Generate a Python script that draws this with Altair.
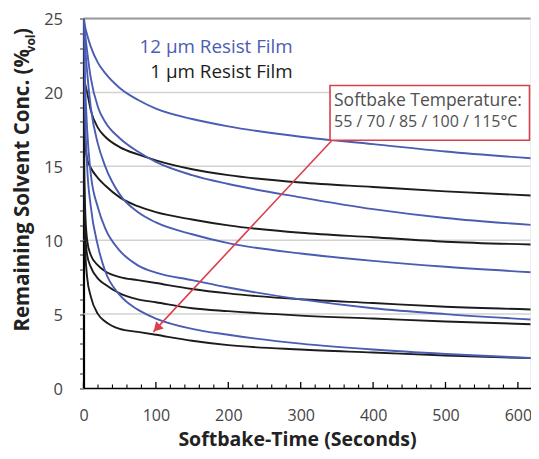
import altair as alt
import pandas as pd

# ---- data ----
time_s = [0, 1, 2, 5, 10, 20, 30, 50, 75, 100, 150, 200, 300, 400, 500, 630]

blue_12um = {
    "55 °C (12 µm)":  [25, 24.8, 24.5, 23.9, 23.1, 22.0, 21.3, 20.3, 19.5, 18.9, 18.2, 17.7, 17.0, 16.5, 16.0, 15.5],
    "70 °C (12 µm)":  [25, 24.6, 24.1, 22.8, 21.0, 19.0, 18.0, 16.9, 16.0, 15.3, 14.4, 13.8, 12.9, 12.1, 11.5, 11.0],
    "85 °C (12 µm)":  [25, 24.2, 23.3, 21.4, 19.0, 16.5, 15.0, 13.1, 11.9, 11.2, 10.4, 9.8, 9.1, 8.6, 8.2, 7.8],
    "100 °C (12 µm)": [25, 23.0, 21.0, 17.5, 14.5, 12.2, 10.8, 9.3, 8.3, 7.8, 7.3, 6.8, 6.0, 5.4, 5.0, 4.6],
    "115 °C (12 µm)": [25, 22.0, 19.0, 15.0, 12.3, 9.6, 7.9, 6.3, 5.3, 4.7, 4.0, 3.6, 3.0, 2.6, 2.3, 2.0],
}
black_1um = {
    "55 °C (1 µm)":  [21, 20.8, 20.6, 20.0, 18.8, 17.6, 17.0, 16.3, 15.8, 15.4, 14.8, 14.4, 13.9, 13.6, 13.3, 13.0],
    "70 °C (1 µm)":  [21, 19.0, 17.0, 15.5, 14.9, 14.2, 13.7, 12.9, 12.3, 11.9, 11.4, 11.0, 10.5, 10.2, 9.9, 9.7],
    "85 °C (1 µm)":  [21, 15.0, 12.5, 10.0, 9.0, 8.3, 7.9, 7.5, 7.3, 7.1, 6.7, 6.4, 6.0, 5.75, 5.5, 5.3],
    "100 °C (1 µm)": [21, 13.0, 11.0, 9.0, 8.2, 7.4, 7.0, 6.4, 6.0, 5.8, 5.4, 5.2, 4.9, 4.7, 4.5, 4.3],
    "115 °C (1 µm)": [21, 12.0, 9.8, 7.5, 6.2, 5.0, 4.5, 4.0, 3.8, 3.6, 3.2, 2.9, 2.6, 2.4, 2.2, 2.0],
}

x_major_ticks = [0, 100, 200, 300, 400, 500, 600]
x_minor_ticks = [t for t in range(0, 620, 20) if t % 100 != 0]
y_ticks = list(range(0, 26))
grid_light = [5, 10, 15, 20]
grid_top = [25]

legend_labels = ["12 µm Resist Film", "1 µm Resist Film"]
legend_y = [23.05, 21.4]
legend_x = 289

box_x = [340.5, 616.0]
box_y = [16.76, 20.47]
box_line1 = "Softbake Temperature:"
box_line2 = "55 / 70 / 85 / 100 / 115°C"
box_text_y = [19.45, 17.97]
box_text_x = 346

arrow_start = [343, 16.75]
arrow_end = [96.5, 3.8]
arrow_head = [101.2, 4.05]

X_MAX = 617.4
W, H = 447, 369.5
BLUE = "#4b5cb3"
BLACK = "#1c1c1c"
RED = "#d8404c"
FONT = "Open Sans"

rows = []
for film, series in (("1 µm", black_1um), ("12 µm", blue_12um)):
    for name, vals in series.items():
        for t, v in zip(time_s, vals):
            rows.append({"series": name, "film": film, "t": t, "c": v})
df = pd.DataFrame(rows)

xs = alt.Scale(domain=[0, X_MAX], nice=False, zero=False)
ys = alt.Scale(domain=[0, 25], nice=False)

AX_X = alt.Axis(values=x_major_ticks, title=None, grid=False, ticks=False, domainColor="black",
                domainWidth=1.5, labelFont=FONT, labelFontSize=16, labelColor="#444",
                labelPadding=19, labelFlush=False)
AX_Y = alt.Axis(values=y_ticks, title=None, grid=False, tickSize=4, tickColor="#333",
                labelExpr="datum.value % 5 == 0 ? datum.label : ''",
                domainColor="black", domainWidth=2.2, labelFont=FONT, labelFontSize=16.5,
                labelColor="#444", labelPadding=17, labelOffset=1)

def X(f):
    return alt.X(f, scale=xs, axis=AX_X)

def Y(f):
    return alt.Y(f, scale=ys, axis=AX_Y)

grid = alt.Chart(pd.DataFrame({"g": grid_light})).mark_rule(color="#d2d2d2", strokeWidth=1.5).encode(y=Y("g:Q"))
grid25 = alt.Chart(pd.DataFrame({"g": grid_top})).mark_rule(color="#9a9a9a", strokeWidth=2).encode(y=Y("g:Q"))

lines = alt.Chart(df).mark_line(strokeWidth=1.9, interpolate="monotone", clip=True).encode(
    x=X("t:Q"), y=Y("c:Q"),
    color=alt.Color("film:N", scale=alt.Scale(domain=["1 µm", "12 µm"], range=[BLACK, BLUE]), legend=None),
    detail="series:N",
)

maj = alt.Chart(pd.DataFrame({"t": x_major_ticks})).mark_rule(color="black", strokeWidth=1.3).encode(
    x=X("t:Q"), y=alt.value(H), y2=alt.value(H - 6))
mnr = alt.Chart(pd.DataFrame({"t": x_minor_ticks})).mark_rule(color="black", strokeWidth=1.1).encode(
    x=X("t:Q"), y=alt.value(H), y2=alt.value(H - 3.5))

leg = alt.Chart(pd.DataFrame({"lab": legend_labels, "y": legend_y, "film": ["12 µm", "1 µm"],
                              "x": [legend_x, legend_x]})).mark_text(
    align="right", baseline="middle", font=FONT, fontSize=18.8).encode(
    x=X("x:Q"), y=Y("y:Q"), text="lab:N",
    color=alt.Color("film:N", scale=alt.Scale(domain=["1 µm", "12 µm"], range=["#222222", "#5062b5"]), legend=None))

arrow = alt.Chart(pd.DataFrame({"x": [arrow_start[0]], "y": [arrow_start[1]],
                                "x2": [arrow_end[0]], "y2": [arrow_end[1]]})).mark_rule(
    color=RED, strokeWidth=1.6).encode(x=X("x:Q"), y=Y("y:Q"), x2="x2:Q", y2="y2:Q")
head = alt.Chart(pd.DataFrame({"x": [arrow_head[0]], "y": [arrow_head[1]]})).mark_point(
    shape="triangle-up", filled=True, color=RED, size=110, angle=223, opacity=1).encode(
    x=X("x:Q"), y=Y("y:Q"))

box = alt.Chart(pd.DataFrame({"x": [box_x[0]], "x2": [box_x[1]], "y": [box_y[0]], "y2": [box_y[1]]})).mark_rect(
    fill="white", stroke=RED, strokeWidth=1.6).encode(x=X("x:Q"), x2="x2:Q", y=Y("y:Q"), y2="y2:Q")
box_t1 = alt.Chart(pd.DataFrame({"lab": [box_line1], "y": [box_text_y[0]], "x": [box_text_x]})).mark_text(
    align="left", baseline="middle", font=FONT, fontSize=17.5, color="#505050").encode(
    x=X("x:Q"), y=Y("y:Q"), text="lab:N")
box_t2 = alt.Chart(pd.DataFrame({"lab": [box_line2], "y": [box_text_y[1]], "x": [box_text_x]})).mark_text(
    align="left", baseline="middle", font=FONT, fontSize=16, color="#505050").encode(
    x=X("x:Q"), y=Y("y:Q"), text="lab:N")

one = pd.DataFrame({"a": [0]})
xtitle = alt.Chart(one).mark_text(font=FONT, fontSize=19.5, fontWeight="bold", color="#222",
                                  align="center", baseline="middle").encode(
    x=alt.value(214), y=alt.value(421.5), text=alt.value("Softbake-Time (Seconds)"))
ytitle = alt.Chart(one).mark_text(font=FONT, fontSize=20.5, fontWeight="bold", color="#222",
                                  align="right", baseline="middle", angle=270).encode(
    x=alt.value(-60.5), y=alt.value(30.5), text=alt.value("Remaining Solvent Conc. (%"))
ysub = alt.Chart(one).mark_text(font=FONT, fontSize=12, fontWeight="bold", color="#222",
                                align="right", baseline="middle", angle=270).encode(
    x=alt.value(-52.5), y=alt.value(16), text=alt.value("vol"))
yclose = alt.Chart(one).mark_text(font=FONT, fontSize=20.5, fontWeight="bold", color="#222",
                                  align="right", baseline="middle", angle=270).encode(
    x=alt.value(-60.5), y=alt.value(9.5), text=alt.value(")"))

chart = alt.layer(grid, grid25, lines, maj, mnr, leg, arrow, head, box, box_t1, box_t2,
                  xtitle, ytitle, ysub, yclose).properties(
    width=W, height=H,
    autosize=alt.AutoSizeParams(type="none"),
    padding={"left": 75.5, "top": 10.5, "right": 0.5, "bottom": 63},
).configure_view(stroke=None).configure(background="white")

chart.save("out.html", embed_options={"renderer": "svg", "actions": False})
